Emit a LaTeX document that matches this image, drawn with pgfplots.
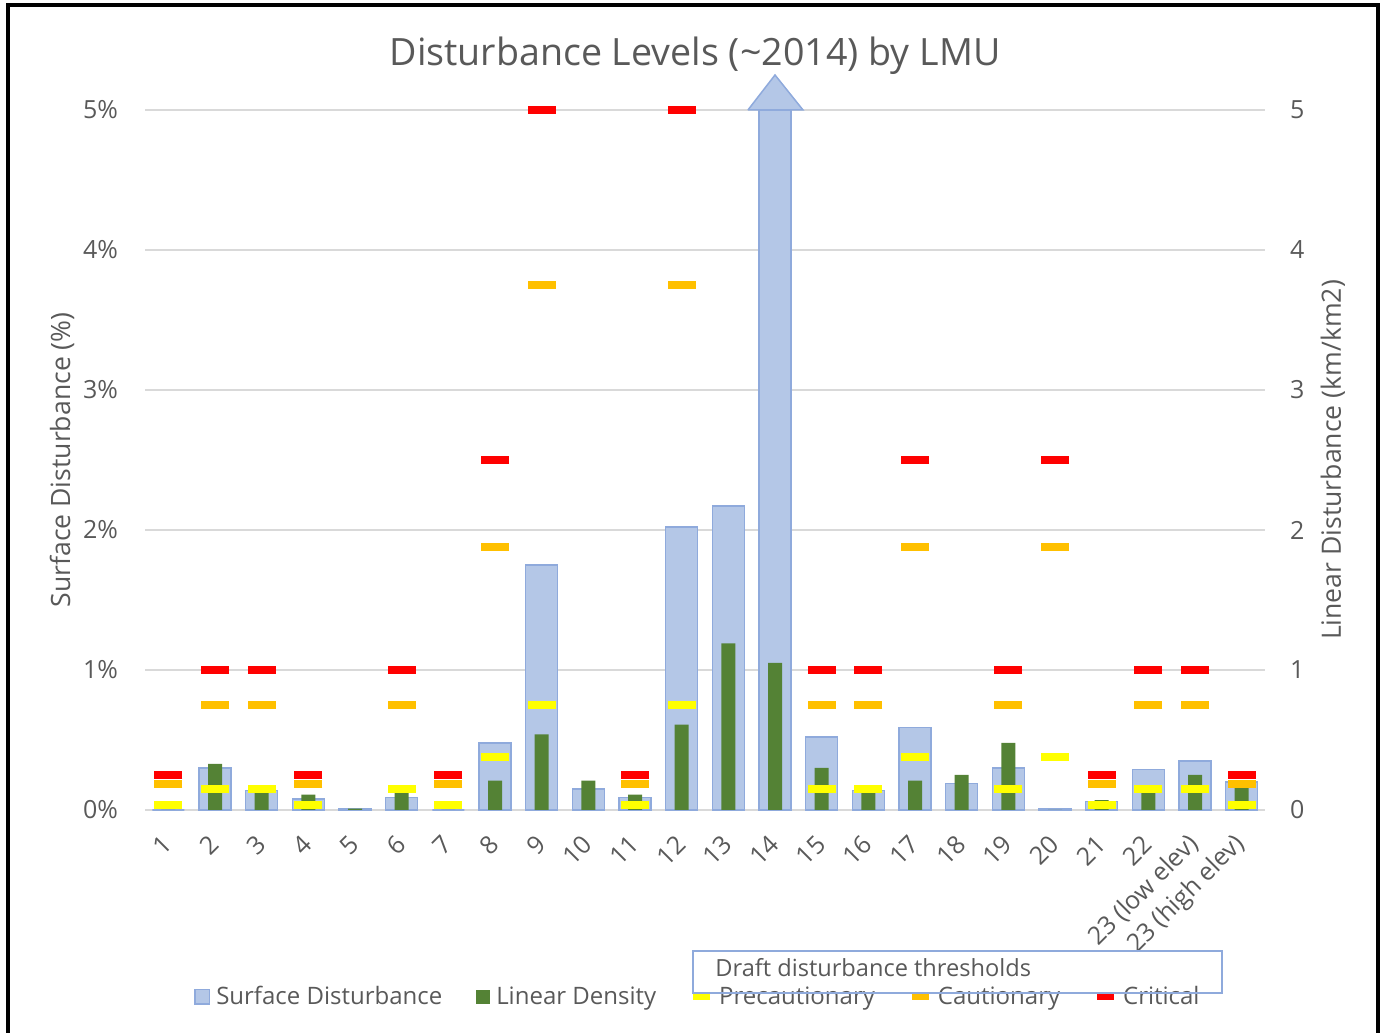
\documentclass[border=0pt]{standalone}
\usepackage{fontspec}
\setmainfont{Open Sans}
\usepackage{pgfplots}
\usepackage{pgfplotstable}
\pgfplotsset{compat=1.18}
\definecolor{txt}{HTML}{595959}
\definecolor{gridc}{HTML}{D9D9D9}
\definecolor{bluef}{HTML}{B4C7E7}
\definecolor{blued}{HTML}{8FAADC}
\definecolor{greenb}{HTML}{548235}
\definecolor{yel}{HTML}{FFFF00}
\definecolor{ora}{HTML}{FFC000}
\definecolor{redc}{HTML}{FF0000}

\pgfplotstableread{
x surf
0 0
1 0.30
2 0.14
3 0.08
4 0.01
5 0.09
6 0
7 0.48
8 1.75
9 0.15
10 0.09
11 2.02
12 2.17
13 5.0
14 0.52
15 0.14
16 0.59
17 0.19
18 0.30
19 0.01
20 0.06
21 0.29
22 0.35
23 0.20
}\surftab

\pgfplotstableread{
x lin
0 0
1 0.33
2 0.13
3 0.11
4 0.01
5 0.12
6 0
7 0.21
8 0.54
9 0.21
10 0.11
11 0.61
12 1.19
13 1.05
14 0.30
15 0.13
16 0.21
17 0.25
18 0.48
19 0
20 0.07
21 0.14
22 0.25
23 0.16
}\lintab

\pgfplotstableread{
x crit caut prec
0 0.25 0.1875 0.0375
1 1 0.75 0.15
2 1 0.75 0.15
3 0.25 0.1875 0.0375
5 1 0.75 0.15
6 0.25 0.1875 0.0375
7 2.5 1.875 0.375
8 5 3.75 0.75
10 0.25 0.1875 0.0375
11 5 3.75 0.75
14 1 0.75 0.15
15 1 0.75 0.15
16 2.5 1.875 0.375
18 1 0.75 0.15
19 2.5 1.875 0.375
20 0.25 0.1875 0.0375
21 1 0.75 0.15
22 1 0.75 0.15
23 0.25 0.1875 0.0375
}\thrtab

\begin{document}
\begin{tikzpicture}
\useasboundingbox (0,0) rectangle (691.5bp,516.5bp);
\draw[line width=2bp] (3.75bp,-5bp) rectangle (688.75bp,513.85bp);

\begin{axis}[
  at={(72.5bp,111.5bp)}, anchor=south west,
  scale only axis, width=560bp, height=350bp,
  xmin=-0.5, xmax=23.5, ymin=0, ymax=5,
  clip=false,
  axis line style={draw=none}, tick style={draw=none},
  ymajorgrids, grid style={gridc, line width=0.75bp},
  ytick={0,1,2,3,4,5}, yticklabels={0\%,1\%,2\%,3\%,4\%,5\%},
  xtick={0,...,23},
  xticklabels={1,2,3,4,5,6,7,8,9,10,11,12,13,14,15,16,17,18,19,20,21,22,23 (low elev),23 (high elev)},
  tick label style={font=\fontsize{12.5bp}{15bp}\selectfont, text=txt},
  yticklabel style={anchor=east, xshift=-10bp},
  xticklabel style={rotate=45, anchor=east, yshift=-10.5bp, xshift=-7.5bp},
  ylabel={Surface Disturbance (\%)},
  every axis y label/.style={at={(axis description cs:-0.0741,0.5)}, rotate=90, anchor=center, font=\fontsize{13.3bp}{16bp}\selectfont, text=txt},
  legend columns=5,
  legend cell align=left,
  legend style={at={(axis description cs:0.4955,-0.267)}, anchor=center, draw=none, fill=none,
    font=\fontsize{12bp}{14.5bp}\selectfont, text=txt,
    nodes={inner xsep=3bp, inner ysep=1.5bp},
    /tikz/every even column/.append style={column sep=14bp}},
]
\addplot[ybar, bar width=16bp, bar shift=0pt, fill=bluef, draw=blued, line width=0.75bp,
  legend image code/.code={\draw[fill=bluef, draw=blued, line width=0.75bp] (0bp,-3.6bp) rectangle (7.2bp,3.6bp);}]
  table[x=x, y=surf] {\surftab};
\addlegendentry{Surface Disturbance}
\addplot[ybar, bar width=7bp, bar shift=0pt, fill=greenb, draw=none,
  legend image code/.code={\fill[greenb] (0bp,-3.5bp) rectangle (7bp,3.5bp);}]
  table[x=x, y=lin] {\lintab};
\addlegendentry{Linear Density}
\addplot[fill=bluef, draw=blued, line width=0.75bp, forget plot]
  coordinates {(12.42,5.0) (13.0,5.25) (13.6,5.0) (12.42,5.0)};
\addplot[only marks, mark=-, mark size=7bp, line width=4bp, color=yel,
  legend image code/.code={\draw[yel, line width=3bp] (0bp,0bp) -- (8.5bp,0bp);}]
  table[x=x, y=prec] {\thrtab};
\addlegendentry{Precautionary}
\addplot[only marks, mark=-, mark size=7bp, line width=4bp, color=ora,
  legend image code/.code={\draw[ora, line width=3bp] (0bp,0bp) -- (8.5bp,0bp);}]
  table[x=x, y=caut] {\thrtab};
\addlegendentry{Cautionary}
\addplot[only marks, mark=-, mark size=7bp, line width=4bp, color=redc,
  legend image code/.code={\draw[redc, line width=3bp] (0bp,0bp) -- (8.5bp,0bp);}]
  table[x=x, y=crit] {\thrtab};
\addlegendentry{Critical}
\end{axis}

\begin{axis}[
  at={(72.5bp,111.5bp)}, anchor=south west,
  scale only axis, width=560bp, height=350bp,
  xmin=-0.5, xmax=23.5, ymin=0, ymax=5,
  axis x line=none, axis y line*=right,
  axis line style={draw=none}, tick style={draw=none},
  ytick={0,1,2,3,4,5}, yticklabels={0,1,2,3,4,5},
  tick label style={font=\fontsize{12.5bp}{15bp}\selectfont, text=txt},
  yticklabel style={anchor=west, xshift=9bp},
  ylabel={Linear Disturbance (km/km2)},
  every axis y label/.style={at={(axis description cs:1.0607,0.5)}, rotate=90, anchor=center, font=\fontsize{13.3bp}{16bp}\selectfont, text=txt},
]
\addplot[draw=none] coordinates {(0,0)};
\end{axis}

\node[font=\fontsize{18.8bp}{22bp}\selectfont, text=txt] at (347.5bp,488.5bp) {Disturbance Levels (\textasciitilde2014) by LMU};
\draw[blued, line width=0.75bp] (346.5bp,20bp) rectangle (611bp,41bp);
\node[anchor=base west, inner sep=0pt, font=\fontsize{11.8bp}{14bp}\selectfont, text=txt] at (357.5bp,28.5bp) {Draft disturbance thresholds};
\end{tikzpicture}
\end{document}
